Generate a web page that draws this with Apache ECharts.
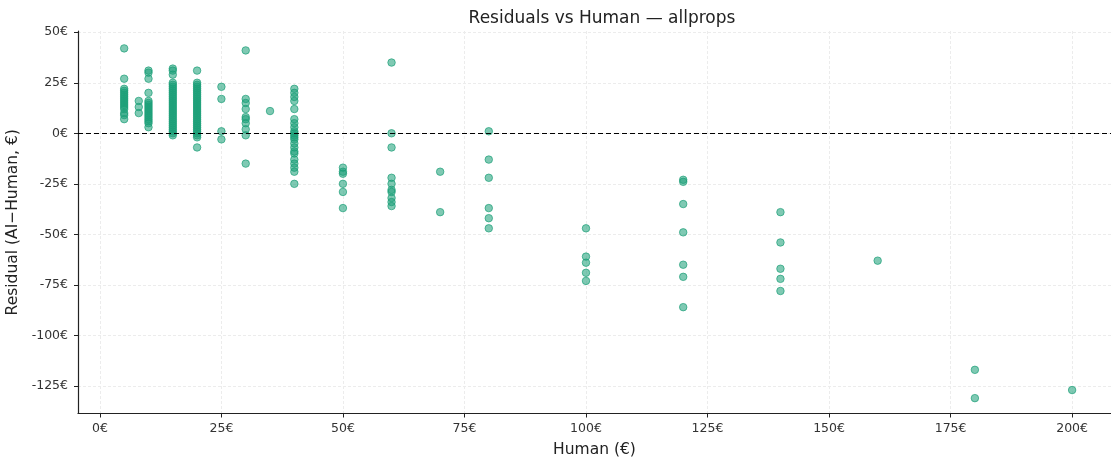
<!DOCTYPE html>
<html>

<head>
    <meta charset="utf-8">
    <script src="https://cdn.jsdelivr.net/npm/echarts@6/dist/echarts.min.js"></script>
    <style>
        html, body { margin: 0; padding: 0; background: #fff; }
        #scatter { width: 1111px; height: 460px; }
    </style>
</head>

<body>
    <div id="scatter"></div>
</body>

<script type='text/javascript'>

    // human price (x) and the residuals seen at each price
    var humanPrices = [5, 8, 10, 15, 20, 25, 30, 35, 40, 50, 60, 70, 80, 100, 120, 140, 160, 180, 200];
    var residualsByPrice = [
        [42, 27, 22, 21, 20, 19, 18, 17, 16, 15, 14, 13, 12, 10, 9, 7],
        [16, 13, 10],
        [31, 30, 27, 20, 16, 15, 14, 13, 12, 11, 10, 9, 8, 7, 6, 5, 3],
        [32, 31, 29, 25, 24, 23, 22, 21, 20, 19, 18, 17, 16, 15, 14, 13, 12, 11, 10, 9, 8, 7, 6, 5, 4, 3, 2, 1, 0, -1],
        [31, 25, 24, 23, 22, 21, 20, 19, 18, 17, 16, 15, 14, 13, 12, 11, 10, 9, 8, 7, 6, 5, 4, 3, 2, 1, 0, -1, -2, -7],
        [23, 17, 1, -3],
        [41, 17, 15, 12, 8, 7, 5, 2, -1, -15],
        [11],
        [22, 20, 18, 16, 12, 7, 5, 3, 1, 0, -1, -2, -3, -5, -7, -9, -10, -13, -15, -17, -19, -25],
        [-17, -19, -20, -25, -29, -37],
        [35, 0, -7, -22, -25, -28, -29, -32, -34, -36],
        [-19, -39],
        [1, -13, -22, -37, -42, -47],
        [-47, -61, -64, -69, -73],
        [-23, -24, -35, -49, -65, -71, -86],
        [-39, -54, -67, -72, -78],
        [-63],
        [-117, -131],
        [-127]
    ];
    var xTicks = [0, 25, 50, 75, 100, 125, 150, 175, 200];
    var yTicks = [-125, -100, -75, -50, -25, 0, 25, 50];

    // flatten into [x, y] pairs
    var points = [];
    humanPrices.forEach(function (price, i) {
        residualsByPrice[i].forEach(function (r) {
            points.push([price, r]);
        });
    });

    var fontFamily = 'DejaVu Sans';

    var option = {
        backgroundColor: '#fff',
        animation: false,
        title: {
            text: 'Residuals vs Human \u2014 allprops',
            left: 597,
            top: 5,
            textAlign: 'center',
            textStyle: { fontFamily: fontFamily, fontSize: 17, fontWeight: 'normal', color: '#222' }
        },
        grid: {
            left: 78,
            right: 0,
            top: 31,
            bottom: 46.5,
            outerBoundsMode: 'none',
            containLabel: false
        },
        xAxis: {
            type: 'value',
            min: -4.5,
            max: 208,
            name: 'Human (\u20ac)',
            nameLocation: 'middle',
            nameGap: 28,
            nameTextStyle: { fontFamily: fontFamily, fontSize: 15.5, color: '#222' },
            axisLine: { show: true, onZero: false, lineStyle: { color: '#222', width: 1.2 } },
            axisTick: { show: true, length: 4, customValues: xTicks, lineStyle: { color: '#222' } },
            axisLabel: {
                customValues: xTicks,
                formatter: '{value}\u20ac',
                fontFamily: fontFamily, fontSize: 12.5, color: '#333', margin: 9
            },
            splitLine: { show: true, lineStyle: { color: '#ececec', type: [3, 2], width: 1 } }
        },
        yAxis: {
            type: 'value',
            min: -138.6,
            max: 50.6,
            name: 'Residual (AI\u2212Human, \u20ac)',
            nameLocation: 'middle',
            nameGap: 53,
            nameTextStyle: { fontFamily: fontFamily, fontSize: 15.5, color: '#222' },
            axisLine: { show: true, onZero: false, lineStyle: { color: '#222', width: 1.2 } },
            axisTick: { show: true, length: 4, customValues: yTicks, lineStyle: { color: '#222' } },
            axisLabel: {
                customValues: yTicks,
                formatter: '{value}\u20ac',
                fontFamily: fontFamily, fontSize: 12.5, color: '#333', margin: 10
            },
            splitLine: { show: true, lineStyle: { color: '#ececec', type: [3, 2], width: 1 } }
        },
        series: [{
            type: 'scatter',
            data: points,
            symbolSize: 7.5,
            itemStyle: {
                color: 'rgba(27,158,119,0.7)',
                borderColor: 'rgba(27,158,119,0.85)',
                borderWidth: 1
            },
            markLine: {
                silent: true,
                symbol: 'none',
                label: { show: false },
                lineStyle: { color: '#000', type: [5, 3], width: 1.2 },
                data: [{ yAxis: 0 }]
            }
        }]
    };

    var chart = echarts.init(document.getElementById('scatter'));
    chart.setOption(option);
</script>

</html>
